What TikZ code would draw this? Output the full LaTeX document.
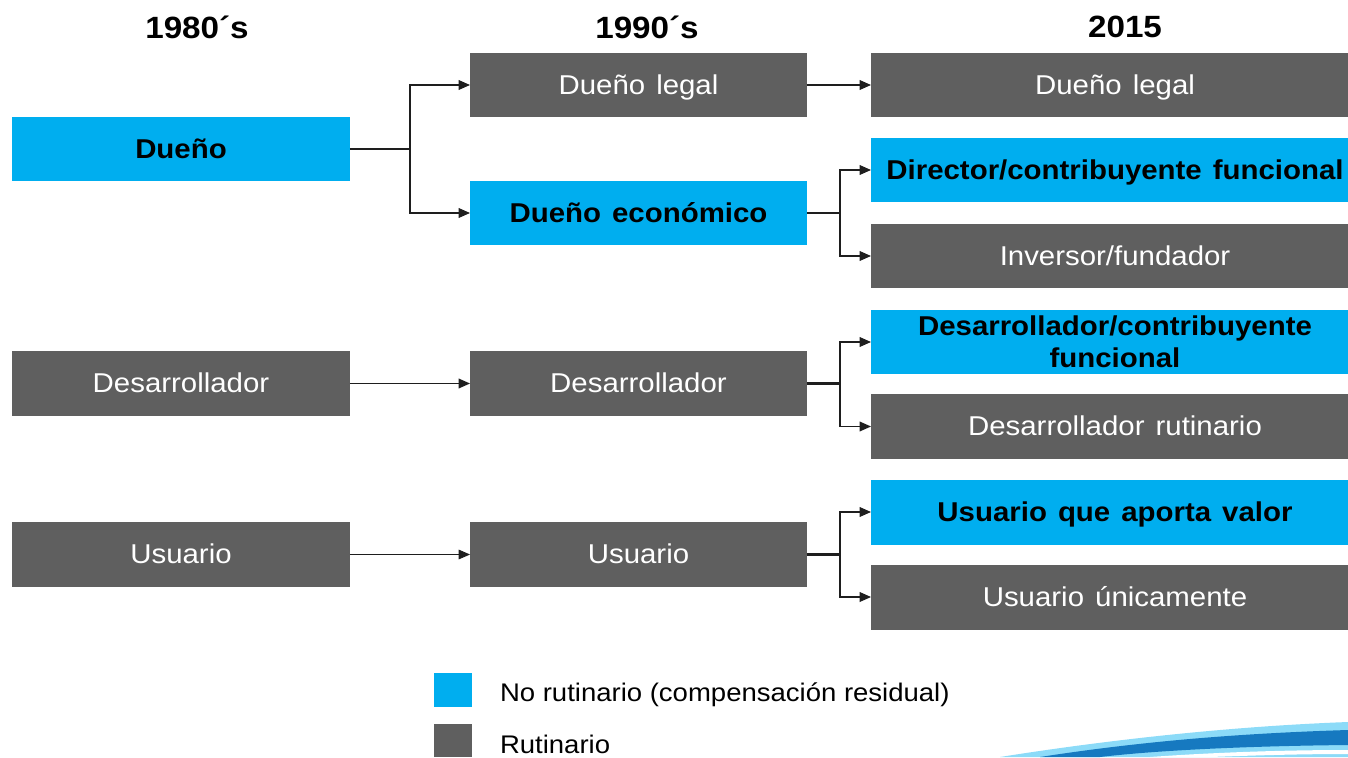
\documentclass[tikz,border=0pt]{standalone}
\usepackage{fontspec}
\setmainfont[FakeStretch=1.08]{Liberation Sans}
\newfontfamily\cajafont[FakeStretch=1.08, WordSpace=1.35]{Liberation Sans}
\usetikzlibrary{arrows.meta}
\definecolor{azul}{HTML}{00AEEF}
\definecolor{gris}{HTML}{5F5F5F}
\definecolor{linea}{HTML}{1E1E1E}
\definecolor{ola}{HTML}{1679C0}

\begin{document}
\begin{tikzpicture}[x=0.02cm, y=-0.02cm,
  every node/.style={inner sep=0pt, outer sep=0pt, font=\fontsize{14.5}{17}\selectfont},
  caja/.style={minimum height=1.3cm, text height=2ex, text depth=0pt,
    font=\cajafont\fontsize{15.5}{18.5}\selectfont},
  rut/.style={caja, fill=gris, text=white},
  norut/.style={caja, fill=azul, text=black, font=\cajafont\fontsize{15.5}{18.5}\selectfont\bfseries},
  col1/.style={minimum width=6.76cm},
  col2/.style={minimum width=6.74cm},
  col3/.style={minimum width=9.76cm},
  anio/.style={font=\fontsize{17.5}{20}\selectfont\bfseries},
  tronco/.style={draw=linea, line width=1.7pt},
  rama/.style={draw=linea, line width=0.85pt, -{Triangle[length=6.5pt,width=5.5pt]}}]
\useasboundingbox (0,0) rectangle (1348,757);

\fill[azul!45] (1000,757) .. controls (1120,738) and (1240,726) .. (1348,722) -- (1348,757) -- cycle;
\fill[ola] (1040,757) .. controls (1150,740) and (1250,733) .. (1348,730) -- (1348,745) .. controls (1250,746) and (1160,750) .. (1100,757) -- cycle;
\fill[white] (1150,757) .. controls (1220,752) and (1290,750) .. (1348,750) -- (1348,754) .. controls (1290,754) and (1240,756) .. (1210,757) -- cycle;

\node[anio] (a1) at (197,27) {1980´s};
\node[anio] (a2) at (647,27) {1990´s};
\node[anio] (a3) at (1125,27) {2015};

\node[norut, col1] (d1) at (181,149) {Dueño};
\node[rut, col1] (s1) at (181,383.5) {Desarrollador};
\node[rut, col1] (u1) at (181,554.5) {Usuario};

\node[rut, col2] (l2) at (638.5,85) {Dueño legal};
\node[norut, col2] (e2) at (638.5,213) {Dueño económico};
\node[rut, col2] (s2) at (638.5,383.5) {Desarrollador};
\node[rut, col2] (u2) at (638.5,554.5) {Usuario};

\node[rut, col3] (l3) at (1115,85) {Dueño legal};
\node[norut, col3] (f3) at (1115,170) {Director/contribuyente funcional};
\node[rut, col3] (i3) at (1115,256) {Inversor/fundador};
\node[norut, col3, align=center, text height=, text depth=] (c3) at (1115,342) {Desarrollador/contribuyente\\funcional};
\node[rut, col3] (r3) at (1115,426.5) {Desarrollador rutinario};
\node[norut, col3] (v3) at (1115,512) {Usuario que aporta valor};
\node[rut, col3] (o3) at (1115,597) {Usuario únicamente};

\coordinate (j1) at (410,149);
\coordinate (j2) at (840,213);
\coordinate (j3) at (840,383.5);
\coordinate (j4) at (840,554.5);

\draw[tronco] (d1.east) -- (j1);
\draw[rama] (j1) |- (l2.west);
\draw[rama] (j1) |- (e2.west);
\draw[rama] (l2.east) -- (l3.west);
\draw[tronco] (e2.east) -- (j2);
\draw[rama] (j2) |- (f3.west);
\draw[rama] (j2) |- (i3.west);
\draw[rama] (s1.east) -- (s2.west);
\draw[tronco] (s2.east) -- (j3);
\draw[rama] (j3) |- (c3.west);
\draw[rama] (j3) |- (r3.west);
\draw[rama, line width=0.5pt] (u1.east) -- (u2.west);
\draw[tronco] (u2.east) -- (j4);
\draw[rama] (j4) |- (v3.west);
\draw[rama] (j4) |- (o3.west);

\fill[azul] (434,673) rectangle (472,707);
\fill[gris] (434,724) rectangle (472,757);
\node[anchor=west, text depth=0pt] (t1) at (500,692) {No rutinario (compensación residual)};
\node[anchor=west, text depth=0pt] (t2) at (500,744) {Rutinario};
\end{tikzpicture}
\end{document}
